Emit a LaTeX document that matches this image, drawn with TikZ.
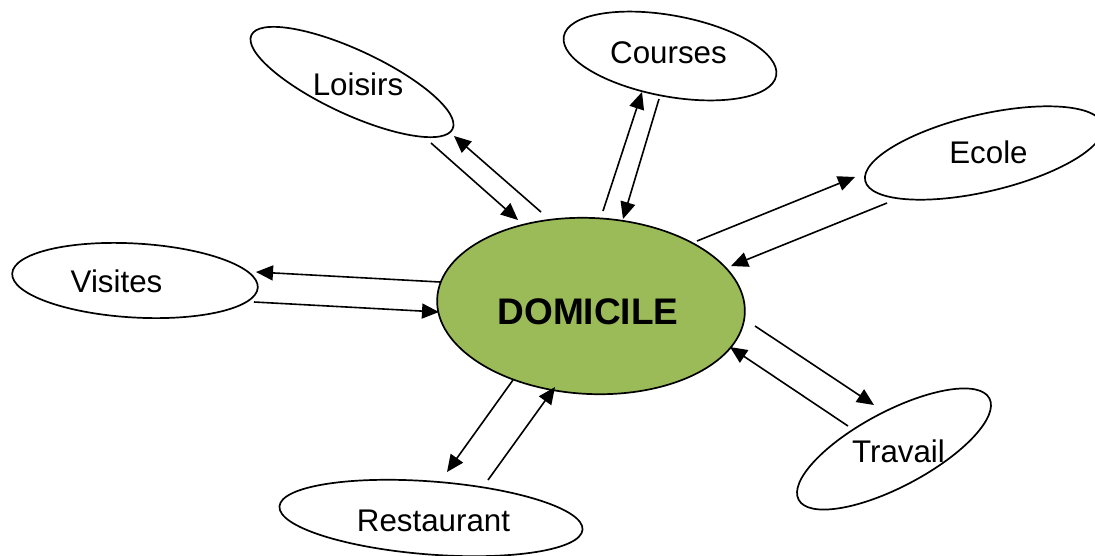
\documentclass[tikz,border=0pt]{standalone}
\usepackage{fontspec}
\setmainfont{Liberation Sans}
\usetikzlibrary{shapes.geometric,arrows.meta}
\definecolor{domgreen}{RGB}{155,187,89}
\begin{document}
\begin{tikzpicture}[x=1pt,y=-1pt,
  oval/.style={draw,ellipse,line width=1.7pt,inner sep=0pt},
  lbl/.style={anchor=base,font=\fontsize{31.3}{36}\selectfont,inner sep=0pt},
  link/.style={line width=1.6pt,-{Triangle[length=17pt,width=15pt]}}]
\useasboundingbox (0,0) rectangle (1095,555);
% ellipses
\node[oval,fill=domgreen,minimum width=308pt,minimum height=176pt,rotate=-2.75] (dom) at (591,306) {};
\node[oval,minimum width=222pt,minimum height=64pt,rotate=-25] (loi) at (352,82) {};
\node[oval,minimum width=216pt,minimum height=81pt,rotate=-10.5] (cou) at (670,56) {};
\node[oval,minimum width=244pt,minimum height=77pt,rotate=13.2] (eco) at (984,153) {};
\node[oval,minimum width=246pt,minimum height=74pt,rotate=-3.3] (vis) at (135,280.5) {};
\node[oval,minimum width=216pt,minimum height=75pt,rotate=28] (tra) at (894,449) {};
\node[oval,minimum width=304pt,minimum height=73pt,rotate=-4.4] (res) at (431,518) {};
% labels
\node[lbl,font=\fontsize{37}{42}\selectfont\bfseries] (tdom) at (588,324) {DOMICILE};
\node[lbl] (tloi) at (358,95) {Loisirs};
\node[lbl] (tcou) at (668.5,63) {Courses};
\node[lbl] (teco) at (988.5,163) {Ecole};
\node[lbl] (tvis) at (116.5,292) {Visites};
\node[lbl] (ttra) at (898.5,462) {Travail};
\node[lbl] (tres) at (433.5,531) {Restaurant};
% connector end points
\coordinate (loiA) at (431,143); \coordinate (domA) at (518,220);
\coordinate (domB) at (541,212); \coordinate (loiB) at (454,136);
\coordinate (domC) at (603,211); \coordinate (couC) at (642,92);
\coordinate (couD) at (659,99);  \coordinate (domD) at (623,219);
\coordinate (domE) at (697,241); \coordinate (ecoE) at (855,177);
\coordinate (ecoF) at (887,203); \coordinate (domF) at (731,266);
\coordinate (domG) at (440,282); \coordinate (visG) at (256,272);
\coordinate (visH) at (254,302); \coordinate (domH) at (439,312);
\coordinate (domI) at (755,326); \coordinate (traI) at (874,405);
\coordinate (traJ) at (848,426); \coordinate (domJ) at (730,347);
\coordinate (domK) at (513,380); \coordinate (resK) at (447,472);
\coordinate (resL) at (488,480); \coordinate (domL) at (555,387);
% connectors
\draw[link] (loiA) -- (domA);
\draw[link] (domB) -- (loiB);
\draw[link] (domC) -- (couC);
\draw[link] (couD) -- (domD);
\draw[link] (domE) -- (ecoE);
\draw[link] (ecoF) -- (domF);
\draw[link] (domG) -- (visG);
\draw[link] (visH) -- (domH);
\draw[link] (domI) -- (traI);
\draw[link] (traJ) -- (domJ);
\draw[link] (domK) -- (resK);
\draw[link] (resL) -- (domL);
\end{tikzpicture}
\end{document}
